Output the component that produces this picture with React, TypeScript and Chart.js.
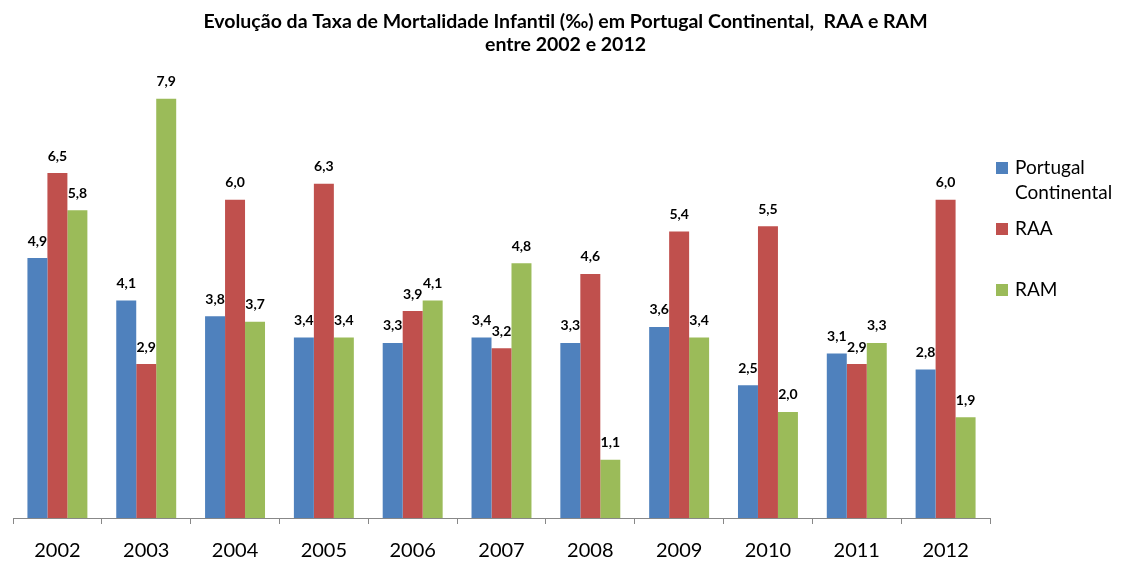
import React, { useEffect, useRef } from "react";
import { Chart, registerables } from "chart.js";

Chart.register(...registerables);

const years = ["2002", "2003", "2004", "2005", "2006", "2007", "2008", "2009", "2010", "2011", "2012"];
const portugalContinental = [4.9, 4.1, 3.8, 3.4, 3.3, 3.4, 3.3, 3.6, 2.5, 3.1, 2.8];
const raa = [6.5, 2.9, 6.0, 6.3, 3.9, 3.2, 4.6, 5.4, 5.5, 2.9, 6.0];
const ram = [5.8, 7.9, 3.7, 3.4, 4.1, 4.8, 1.1, 3.4, 2.0, 3.3, 1.9];
const seriesNames = [["Portugal", "Continental"], ["RAA"], ["RAM"]];
const titleLines = [
  "Evolução da Taxa de Mortalidade Infantil (‰) em Portugal Continental,  RAA e RAM",
  "entre 2002 e 2012",
];
const colors = ["#4F81BD", "#C0504D", "#9BBB59"];

const FONT = "Lato, 'Noto Sans', sans-serif";

const labelsPlugin = {
  id: "valueLabels",
  afterDatasetsDraw(chart: any) {
    const ctx = chart.ctx;
    ctx.save();
    ctx.font = `bold 14px ${FONT}`;
    ctx.fillStyle = "#000";
    ctx.textAlign = "center";
    ctx.textBaseline = "middle";
    chart.data.datasets.forEach((ds: any, di: number) => {
      const meta = chart.getDatasetMeta(di);
      meta.data.forEach((bar: any, i: number) => {
        const v = ds.data[i] as number;
        ctx.fillText(v.toFixed(1).replace(".", ","), bar.x, bar.y - 17);
      });
    });
    ctx.restore();
  },
};

const titlePlugin = {
  id: "customTitle",
  afterDraw(chart: any) {
    const ctx = chart.ctx;
    ctx.save();
    ctx.font = `bold 19.5px ${FONT}`;
    ctx.fillStyle = "#000";
    ctx.textAlign = "center";
    ctx.textBaseline = "middle";
    titleLines.forEach((ln, i) => ctx.fillText(ln, chart.width / 2 + 4, 22 + i * 23));
    ctx.restore();
  },
};

const legendPlugin = {
  id: "sideLegend",
  afterDraw(chart: any) {
    const ctx = chart.ctx;
    const x0 = chart.chartArea.right + 6;
    const rows = [168, 229, 290];
    ctx.save();
    ctx.font = `19px ${FONT}`;
    ctx.textBaseline = "middle";
    ctx.textAlign = "left";
    seriesNames.forEach((lines, i) => {
      const cy = rows[i];
      ctx.fillStyle = colors[i];
      ctx.fillRect(x0, cy - 6, 12, 12);
      ctx.fillStyle = "#000";
      lines.forEach((ln, j) => {
        ctx.fillText(ln, x0 + 19, cy + j * 25);
      });
    });
    ctx.restore();
  },
};

export default function App() {
  const ref = useRef<HTMLCanvasElement | null>(null);
  useEffect(() => {
    if (!ref.current) return;
    const chart = new Chart(ref.current, {
      type: "bar",
      data: {
        labels: years,
        datasets: [
          { label: "Portugal Continental", data: portugalContinental, backgroundColor: colors[0] },
          { label: "RAA", data: raa, backgroundColor: colors[1] },
          { label: "RAM", data: ram, backgroundColor: colors[2] },
        ],
      },
      options: {
        animation: false,
        responsive: false,
        maintainAspectRatio: false,
        layout: { padding: { left: 13, right: 133, top: 93.5, bottom: -17 } },
        datasets: { bar: { barPercentage: 1, categoryPercentage: 0.675 } },
        plugins: {
          legend: { display: false },
          tooltip: { enabled: false },
          title: { display: false },
        },
        scales: {
          x: {
            grid: {
              offset: true,
              drawOnChartArea: false,
              drawTicks: true,
              tickLength: 6,
              color: "#888",
            },
            border: { display: true, color: "#888", width: 1 },
            ticks: { color: "#000", font: { family: FONT, size: 20 }, padding: 15, maxRotation: 0 },
          },
          y: {
            display: false,
            min: 0,
            max: 8,
          },
        },
      },
      plugins: [labelsPlugin, legendPlugin, titlePlugin],
    });
    return () => chart.destroy();
  }, []);
  return (
    <div style={{ position: "fixed", left: 0, top: 0, width: 1123, height: 561, background: "#fff" }}>
      <canvas ref={ref} width={1123} height={561} style={{ display: "block" }} />
    </div>
  );
}
